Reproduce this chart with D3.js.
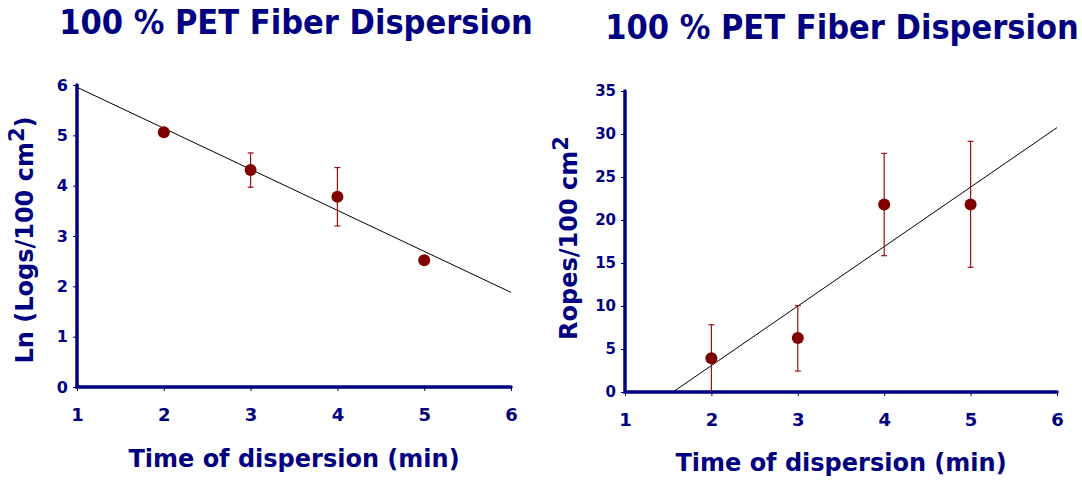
<!DOCTYPE html>
<html>
<head>
<meta charset="utf-8">
<script src="https://cdn.jsdelivr.net/npm/d3@7"></script>
<style>
  body { margin: 0; background: #fff; }
  svg { display: block; }
  text { font-family: "DejaVu Sans", Verdana, sans-serif; font-weight: bold; fill: #000080; }
  .title { font-family: "DejaVu Sans Condensed", "DejaVu Sans", sans-serif; font-stretch: condensed; }
</style>
</head>
<body>
<svg id="main"></svg>
<script>
var w = 1082;
var h = 480;

// data
var times = [2, 3, 4, 5];
var lnLogs = [5.06, 4.31, 3.78, 2.52];
var lnLogsErr = [0, 0.34, 0.58, 0];
var ropes = [3.92, 6.28, 21.8, 21.8];
var ropesErrHi = [3.9, 3.76, 5.95, 7.35];
var ropesErrLo = [3.92, 3.84, 5.95, 7.3];
var xTicks = [1, 2, 3, 4, 5, 6];
var lnTicks = [0, 1, 2, 3, 4, 5, 6];
var ropeTicks = [0, 5, 10, 15, 20, 25, 30, 35];
var chartTitle = "100 % PET Fiber Dispersion";
var xTitle = "Time of dispersion (min)";

var navy = "#000080";
var dotColor = "#800000";
var barColor = "#9a1010";

var svg = d3.select("#main")
  .attr("width", w)
  .attr("height", h);

// least squares line, as the spreadsheet trendline does
function fit(xs, ys) {
  var mx = d3.mean(xs), my = d3.mean(ys);
  var sxy = 0, sxx = 0;
  xs.forEach(function(x, i) {
    sxy += (x - mx) * (ys[i] - my);
    sxx += (x - mx) * (x - mx);
  });
  var b = sxy / sxx;
  return { slope: b, icpt: my - b * mx };
}

function panel(opt) {
  var g = svg.append("g");
  var xScale = d3.scaleLinear().domain([1, 6]).range([opt.x0, opt.x1]);
  var yScale = d3.scaleLinear().domain([0, opt.yMax]).range([opt.y0, opt.y1]);

  g.append("text")
    .attr("class", "title")
    .attr("x", opt.titleX)
    .attr("y", opt.titleY)
    .attr("text-anchor", "middle")
    .style("font-size", "34px")
    .text(chartTitle);

  // clip for trendline
  var clipId = "clip" + opt.id;
  svg.append("clipPath").attr("id", clipId)
    .append("rect")
    .attr("x", opt.x0).attr("y", opt.y1 - 2)
    .attr("width", opt.x1 - opt.x0 + 2)
    .attr("height", opt.y0 - opt.y1 + 2);

  var tr = fit(times, opt.vals);
  g.append("line")
    .attr("clip-path", "url(#" + clipId + ")")
    .attr("x1", xScale(1)).attr("y1", yScale(tr.icpt + tr.slope * 1))
    .attr("x2", xScale(6)).attr("y2", yScale(tr.icpt + tr.slope * 6))
    .attr("stroke", "#000").attr("stroke-width", 1);

  // axes
  var xAxis = d3.axisBottom(xScale).tickValues(xTicks).tickSize(4).tickPadding(17).tickFormat(d3.format("d"));
  var yAxis = d3.axisLeft(yScale).tickValues(opt.ticks).tickSize(4).tickPadding(5).tickFormat(d3.format("d"));

  var gx = g.append("g")
    .attr("transform", "translate(0," + opt.y0 + ")")
    .call(xAxis);
  gx.select(".domain").remove();
  gx.selectAll(".tick line").attr("stroke", navy);
  gx.selectAll(".tick text").style("font-size", "18px").attr("fill", navy);

  var gy = g.append("g")
    .attr("transform", "translate(" + opt.x0 + ",0)")
    .call(yAxis);
  gy.select(".domain").remove();
  gy.selectAll(".tick line").attr("stroke", navy);
  gy.selectAll(".tick text").style("font-size", opt.yFont).attr("fill", navy);

  g.append("path")
    .attr("d", "M" + opt.x0 + "," + opt.y1 + "V" + opt.y0 + "H" + opt.x1)
    .attr("fill", "none")
    .attr("stroke", navy)
    .attr("stroke-width", 3.5)
    .attr("stroke-linecap", "round");

  // error bars
  var eb = g.append("g").attr("stroke", barColor).attr("stroke-width", 1.2);
  times.forEach(function(t, i) {
    var hi = opt.vals[i] + opt.errHi[i];
    var lo = Math.max(0, opt.vals[i] - opt.errLo[i]);
    if (hi === lo) return;
    var cx = xScale(t);
    eb.append("line").attr("x1", cx).attr("x2", cx).attr("y1", yScale(hi)).attr("y2", yScale(lo));
    eb.append("line").attr("x1", cx - 3).attr("x2", cx + 3).attr("y1", yScale(hi)).attr("y2", yScale(hi));
    if (opt.vals[i] - opt.errLo[i] > 0.01)
      eb.append("line").attr("x1", cx - 3).attr("x2", cx + 3).attr("y1", yScale(lo)).attr("y2", yScale(lo));
  });

  g.selectAll("circle.dot")
    .data(times)
    .enter()
    .append("circle")
    .attr("class", "dot")
    .attr("cx", function(d) { return xScale(d); })
    .attr("cy", function(d, i) { return yScale(opt.vals[i]); })
    .attr("r", 6)
    .attr("fill", dotColor);

  g.append("text")
    .attr("x", (opt.x0 + opt.x1) / 2)
    .attr("y", opt.xTitleY)
    .attr("text-anchor", "middle")
    .style("font-size", "24px")
    .text(xTitle);

  var yt = g.append("text")
    .attr("transform", "translate(" + opt.yTitleX + "," + opt.yTitleY + ") rotate(-90)")
    .attr("text-anchor", "middle")
    .style("font-size", "24px");
  yt.append("tspan").text(opt.yLabel);
  yt.append("tspan").attr("dy", -9).style("font-size", "21px").text("2");
  yt.append("tspan").attr("dy", 9).text(opt.yLabelEnd);
}

panel({
  id: 1, x0: 77, x1: 511, y0: 387, y1: 85, yMax: 6,
  vals: lnLogs, errHi: lnLogsErr, errLo: lnLogsErr, ticks: lnTicks,
  yFont: "16px",
  titleX: 296, titleY: 34,
  xTitleY: 467, yTitleX: 33, yTitleY: 240,
  yLabel: "Ln (Logs/100 cm", yLabelEnd: ")"
});

panel({
  id: 2, x0: 625, x1: 1057, y0: 392, y1: 91, yMax: 35,
  vals: ropes, errHi: ropesErrHi, errLo: ropesErrLo, ticks: ropeTicks,
  yFont: "15px",
  titleX: 842, titleY: 39,
  xTitleY: 471, yTitleX: 577, yTitleY: 238,
  yLabel: "Ropes/100 cm", yLabelEnd: ""
});
</script>
</body>
</html>
